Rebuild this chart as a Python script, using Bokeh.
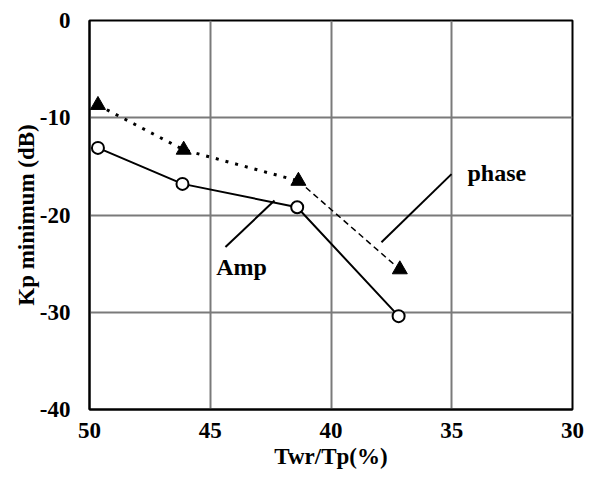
from bokeh.plotting import figure
from bokeh.models import Range1d, FixedTicker, ColumnDataSource
from bokeh.core.properties import value
from bokeh.embed import file_html
from bokeh.resources import INLINE

# Data
amp_x = [49.65, 46.15, 41.4, 37.2]
amp_y = [-13.1, -16.8, -19.2, -30.4]
phase_x = [49.65, 46.1, 41.35, 37.15]
phase_y = [-8.7, -13.3, -16.5, -25.6]

x_ticks = [50, 45, 40, 35, 30]
x_tick_labels = ["50", "45", "40", "35", "30"]
y_ticks = [-40, -30, -20, -10, 0]
y_tick_labels = ["-40", "-30", "-20", "-10", "0"]

# Annotation labels and leader lines (data coordinates)
amp_label = ("Amp", 44.75, -25.3)
amp_leader_x = [44.37, 42.34]
amp_leader_y = [-23.3, -18.5]
phase_label = ("phase", 34.35, -15.7)
phase_leader_x = [37.91, 35.01]
phase_leader_y = [-22.8, -15.8]

FONT = "Liberation Serif"
FS = "23px"

p = figure(width=588, height=480, output_backend="svg", toolbar_location=None,
           x_range=Range1d(50, 30), y_range=Range1d(-40, 0),
           min_border_left=89, min_border_right=16, min_border_top=20,
           min_border_bottom=71)

p.outline_line_color = "black"
p.outline_line_width = 2
p.background_fill_color = "white"

for g in (p.xgrid, p.ygrid):
    g.grid_line_color = "#7a7a7a"
    g.grid_line_width = 2
p.xgrid.ticker = FixedTicker(ticks=x_ticks)
p.ygrid.ticker = FixedTicker(ticks=y_ticks)

for ax in (p.xaxis[0], p.yaxis[0]):
    ax.axis_line_color = "black"
    ax.axis_line_width = 2
    ax.major_tick_in = 0
    ax.major_tick_out = 0
    ax.minor_tick_in = 0
    ax.minor_tick_out = 0
    ax.major_label_text_font = FONT
    ax.major_label_text_font_style = "bold"
    ax.major_label_text_font_size = FS
    ax.major_label_text_color = "black"
    ax.axis_label_text_font = FONT
    ax.axis_label_text_font_style = "bold"
    ax.axis_label_text_font_size = FS
    ax.axis_label_text_color = "black"

p.xaxis.ticker = FixedTicker(ticks=x_ticks)
p.yaxis.ticker = FixedTicker(ticks=y_ticks)
p.xaxis.major_label_overrides = dict(zip(x_ticks, x_tick_labels))
p.yaxis.major_label_overrides = dict(zip(y_ticks, y_tick_labels))
p.xaxis.axis_label = "Twr/Tp(%)"
p.yaxis.axis_label = "Kp minimum (dB)"
p.xaxis.major_label_standoff = 13
p.yaxis.major_label_standoff = 19
p.xaxis.axis_label_standoff = 3
p.yaxis.axis_label_standoff = -2

# Amp series
p.line(amp_x, amp_y, line_color="black", line_width=2)
p.scatter(amp_x, amp_y, marker="circle", size=12, fill_color="white",
          line_color="black", line_width=2)

# Phase series: dotted then thinner dashed segment
p.line(phase_x[:3], phase_y[:3], line_color="black", line_width=3, line_dash="3 7")
p.line(phase_x[2:], phase_y[2:], line_color="black", line_width=1.5, line_dash="6 4")
p.scatter(phase_x, phase_y, marker="triangle", size=15, fill_color="black",
          line_color="black")

# Leader lines
p.line(amp_leader_x, amp_leader_y, line_color="black", line_width=2)
p.line(phase_leader_x, phase_leader_y, line_color="black", line_width=2)

labels = ColumnDataSource(dict(
    t=[amp_label[0], phase_label[0]],
    x=[amp_label[1], phase_label[1]],
    y=[amp_label[2], phase_label[2]],
))
p.text(x="x", y="y", text="t", source=labels, text_font=value(FONT),
       text_font_style="bold", text_font_size="24px", text_color="black",
       text_align="left", text_baseline="middle")

open("out.html", "w").write(file_html(p, INLINE))
